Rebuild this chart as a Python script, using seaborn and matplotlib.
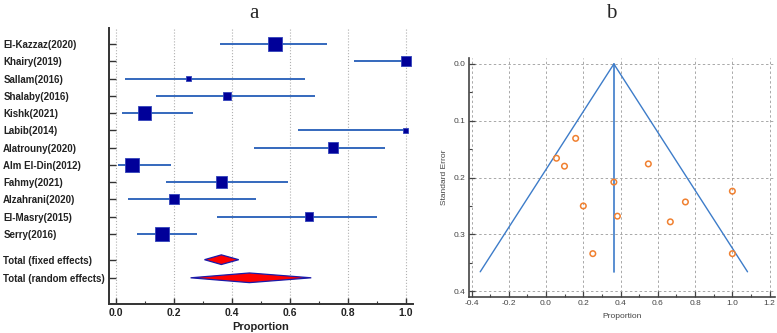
import matplotlib
matplotlib.use("Agg")
import matplotlib.pyplot as plt
from matplotlib.ticker import MultipleLocator
import seaborn as sns
import pandas as pd
import numpy as np

# forest plot data (panel a)
studies = ["El-Kazzaz(2020)", "Khairy(2019)", "Sallam(2016)", "Shalaby(2016)",
           "Kishk(2021)", "Labib(2014)", "Alatrouny(2020)", "Alm El-Din(2012)",
           "Fahmy(2021)", "Alzahrani(2020)", "El-Masry(2015)", "Serry(2016)"]
prop = [0.549, 1.0, 0.251, 0.383, 0.099, 1.0, 0.748, 0.056, 0.364, 0.200, 0.667, 0.159]
ci_low = [0.360, 0.822, 0.031, 0.139, 0.022, 0.630, 0.478, 0.008, 0.172, 0.043, 0.350, 0.075]
ci_high = [0.729, 1.0, 0.652, 0.686, 0.267, 1.0, 0.929, 0.192, 0.594, 0.484, 0.900, 0.280]
weight = [11.5, 6.5, 1.8, 4.4, 11.5, 1.4, 6.8, 12.0, 8.5, 7.0, 4.4, 13.5]

totals = ["Total (fixed effects)", "Total (random effects)"]
total_est = [0.364, 0.461]
total_low = [0.306, 0.258]
total_high = [0.424, 0.674]

# funnel plot data (panel b)
fun_prop = [0.549, 1.0, 0.251, 0.383, 0.099, 1.0, 0.748, 0.056, 0.364, 0.200, 0.667, 0.159]
fun_se = [0.176, 0.224, 0.334, 0.268, 0.180, 0.334, 0.243, 0.166, 0.208, 0.250, 0.278, 0.131]
pooled = 0.364
se_max = 0.366

sns.set_style("white")
plt.rcParams['font.family'] = ['Liberation Sans', 'DejaVu Sans']

fig = plt.figure(figsize=(7.77, 3.33), dpi=100)

# ---------------- panel a ----------------
ax = fig.add_axes([0.140, 0.087, 0.392, 0.829])
ypos = list(range(len(studies)))
tot_y = [len(studies) + 0.5, len(studies) + 1.55]

df = pd.DataFrame({"study": studies, "prop": prop, "y": ypos, "w": weight})
ax.hlines(ypos, ci_low, ci_high, color="#3468bd", lw=1.4, zorder=2)
sns.scatterplot(data=df, x="prop", y="y", size="w", marker="s",
                sizes=(1.4 * 8.0, 13.5 * 8.0), size_norm=(1.4, 13.5),
                color="#000099", edgecolor="#3344bb", linewidth=0.6,
                legend=False, ax=ax, zorder=3)

for yy, e, lo, hi in zip(tot_y, total_est, total_low, total_high):
    h = 0.28
    ax.fill([lo, e, hi, e], [yy, yy - h, yy, yy + h], facecolor="#ff0000",
            edgecolor="#1a1aaa", lw=0.9, zorder=3)

ax.set_xlim(-0.024, 1.026)
ax.set_ylim(15.07, -0.93)
ax.set_yticks(ypos + tot_y)
ax.set_yticklabels(studies + totals, fontsize=7, fontweight="bold", color="#222222")
for lab in ax.get_yticklabels():
    lab.set_horizontalalignment("left")
ax.tick_params(axis="y", left=True, direction="in", length=5, width=1.0, pad=76, color="#333333")
ax.xaxis.set_minor_locator(MultipleLocator(0.1))
ax.set_xticks(np.arange(0, 1.01, 0.2))
ax.set_xticklabels([f"{v:.1f}" for v in np.arange(0, 1.01, 0.2)],
                   fontsize=7.5, fontweight="bold", color="#222222")
ax.tick_params(axis="x", which="major", bottom=True, direction="in", length=4, width=1.0, pad=3, color="#333333")
ax.tick_params(axis="x", which="minor", bottom=True, direction="in", length=2.5, width=0.8, color="#333333")
ax.grid(axis="x", which="major", color="#b0b0b0", ls=":", lw=0.8)
ax.set_axisbelow(True)
for s in ["top", "right"]:
    ax.spines[s].set_visible(False)
for s in ["left", "bottom"]:
    ax.spines[s].set_color("#333333")
    ax.spines[s].set_linewidth(1.4)
ax.set_xlabel("Proportion", fontsize=8, fontweight="bold", color="#222222", labelpad=3)
ax.set_ylabel("")

# ---------------- panel b ----------------
bx = fig.add_axes([0.603, 0.107, 0.394, 0.719])
fdf = pd.DataFrame({"prop": fun_prop, "se": fun_se})
se_line = np.array([0, se_max])
sns.lineplot(x=[pooled - 1.96 * se_max, pooled], y=[se_max, 0], color="#3d7cc9", lw=1.0, ax=bx)
sns.lineplot(x=[pooled, pooled + 1.96 * se_max], y=[0, se_max], color="#3d7cc9", lw=1.0, ax=bx)
bx.plot([pooled, pooled], se_line, color="#3d7cc9", lw=1.2)
sns.scatterplot(data=fdf, x="prop", y="se", marker="o", s=16, facecolor="none",
                edgecolor="#f08030", linewidth=1.1, ax=bx, zorder=3)

bx.set_xlim(-0.416, 1.227)
bx.set_ylim(0.411, -0.0106)
bx.xaxis.set_minor_locator(MultipleLocator(0.1))
bx.yaxis.set_minor_locator(MultipleLocator(0.05))
bx.set_xticks(np.arange(-0.4, 1.21, 0.2))
bx.set_xticklabels([f"{v:.1f}" for v in np.arange(-0.4, 1.21, 0.2)], fontsize=6, color="#444444")
bx.set_yticks(np.arange(0, 0.41, 0.1))
bx.set_yticklabels([f"{v:.1f}" for v in np.arange(0, 0.41, 0.1)], fontsize=6, color="#444444")
bx.tick_params(which="major", left=True, bottom=True, direction="in", length=4, width=0.9, pad=2, color="#444444")
bx.tick_params(which="minor", left=True, bottom=True, direction="in", length=2.5, width=0.8, color="#444444")
bx.grid(which="major", color="#a8a8a8", ls=(0, (2.5, 2.5)), lw=0.7)
bx.set_axisbelow(True)
for s in ["top", "right"]:
    bx.spines[s].set_visible(False)
for s in ["left", "bottom"]:
    bx.spines[s].set_color("#444444")
    bx.spines[s].set_linewidth(1.2)
bx.set_xlabel("Proportion", fontsize=6, color="#444444", labelpad=4)
bx.set_ylabel("Standard Error", fontsize=6, color="#444444", labelpad=4)

fig.text(0.327, 0.958, "a", fontsize=15, family="Liberation Serif", ha="center", va="center")
fig.text(0.787, 0.958, "b", fontsize=15, family="Liberation Serif", ha="center", va="center")

fig.savefig("out.png", dpi=100)
